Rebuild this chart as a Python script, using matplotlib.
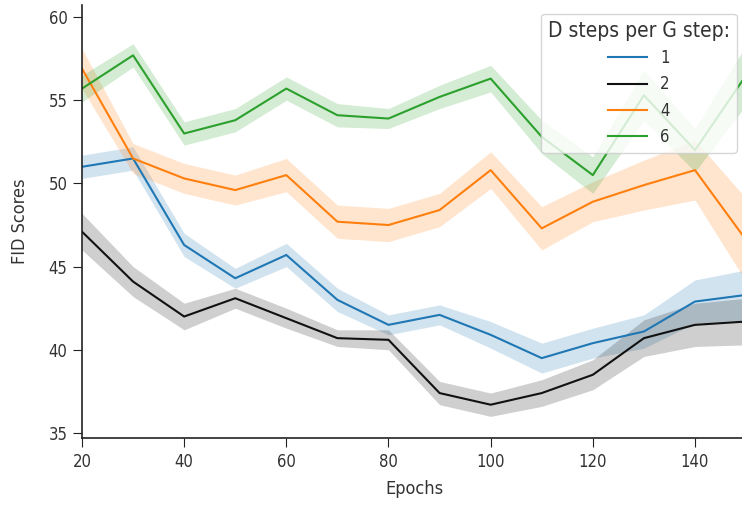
import matplotlib
matplotlib.use("Agg")
import matplotlib.pyplot as plt
import numpy as np

epochs = [20, 30, 40, 50, 60, 70, 80, 90, 100, 110, 120, 130, 140, 150]

fid_1 = [51.0, 51.5, 46.3, 44.3, 45.7, 43.0, 41.5, 42.1, 40.9, 39.5, 40.4, 41.1, 42.9, 43.3]
err_1 = [0.7, 0.7, 0.7, 0.6, 0.7, 0.7, 0.6, 0.6, 0.8, 0.9, 0.9, 1.0, 1.3, 1.5]

fid_2 = [47.1, 44.1, 42.0, 43.1, 41.9, 40.7, 40.6, 37.4, 36.7, 37.4, 38.5, 40.7, 41.5, 41.7]
err_2 = [1.1, 0.9, 0.8, 0.6, 0.6, 0.5, 0.6, 0.7, 0.7, 0.8, 0.9, 1.1, 1.3, 1.4]

fid_4 = [56.9, 51.5, 50.3, 49.6, 50.5, 47.7, 47.5, 48.4, 50.8, 47.3, 48.9, 49.9, 50.8, 46.6]
err_4 = [1.2, 0.9, 0.9, 0.9, 1.0, 1.0, 1.0, 1.0, 1.1, 1.3, 1.2, 1.5, 1.8, 2.5]

fid_6 = [55.7, 57.7, 53.0, 53.8, 55.7, 54.1, 53.9, 55.2, 56.3, 52.8, 50.5, 55.3, 52.0, 56.5]
err_6 = [0.8, 0.7, 0.7, 0.7, 0.7, 0.7, 0.6, 0.7, 0.8, 1.0, 1.1, 1.5, 1.3, 1.8]

labels = ["1", "2", "4", "6"]
colors = ["#1f77b4", "#111111", "#ff7f0e", "#2ca02c"]

series = [(fid_1, err_1), (fid_2, err_2), (fid_4, err_4), (fid_6, err_6)]

plt.rcParams["font.family"] = ["DejaVu Sans"]
plt.rcParams["font.stretch"] = "condensed"

fig = plt.figure(figsize=(7.42, 5.05), dpi=100)
ax = fig.add_axes([0.1105, 0.1327, 0.895, 0.8566])

x = np.array(epochs)
for (vals, err), lab, col in zip(series, labels, colors):
    v = np.array(vals)
    e = np.array(err)
    ax.plot(x, v, color=col, lw=1.5, label=lab)
    ax.fill_between(x, v - e, v + e, color=col, alpha=0.2, lw=0)

ax.set_xlim(20, 150)
ax.set_ylim(34.7, 60.7)
ax.set_xticks([20, 40, 60, 80, 100, 120, 140])
ax.set_yticks([35, 40, 45, 50, 55, 60])
ax.tick_params(labelsize=12, length=6.5, pad=4, color="#222222", labelcolor="#333333")
ax.spines["top"].set_visible(False)
ax.spines["right"].set_visible(False)
ax.spines["left"].set_color("#222222")
ax.spines["bottom"].set_color("#222222")
ax.spines["left"].set_linewidth(1.2)
ax.spines["bottom"].set_linewidth(1.2)
ax.set_xlabel("Epochs", fontsize=13, color="#333333", labelpad=7)
ax.set_ylabel("FID Scores", fontsize=13, color="#333333", labelpad=14)

leg = ax.legend(title="D steps per G step:", loc="upper right", fontsize=12,
                title_fontsize=15, framealpha=0.8, bbox_to_anchor=(0.986, 0.980),
                borderaxespad=0, handlelength=2.3, labelspacing=0.5)
leg.get_title().set_color("#333333")
for t in leg.get_texts():
    t.set_color("#333333")

fig.savefig("out.png", dpi=100)
